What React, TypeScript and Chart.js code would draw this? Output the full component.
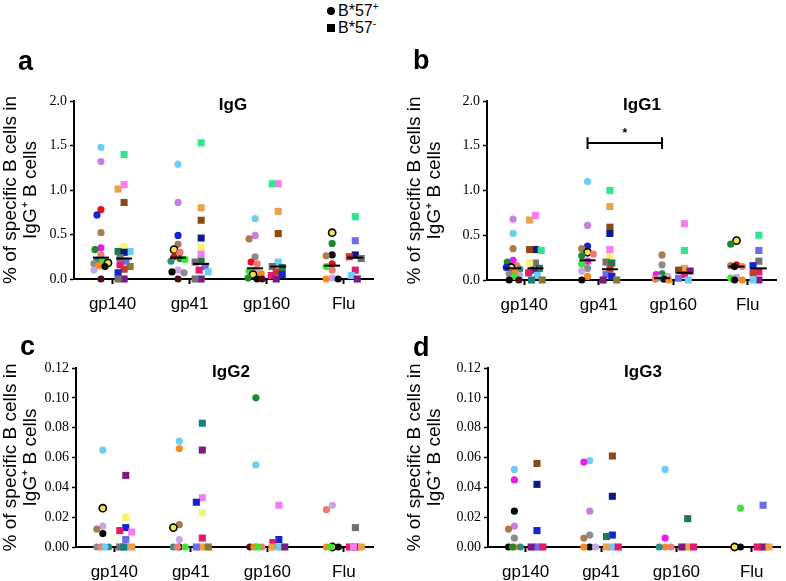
import React, { useEffect, useRef } from 'react';
import { Chart, registerables } from 'chart.js';

Chart.register(...registerables);

// ---------- data ----------
const CATEGORIES = ['gp140', 'gp41', 'gp160', 'Flu'];
const PANEL_TITLES = ['IgG', 'IgG1', 'IgG2', 'IgG3'];
const PANEL_LETTERS = ['a', 'b', 'c', 'd'];
const Y_TITLE = ['% of specific B cells in', 'IgG\u207A B cells'];
const Y_TICKS_TOTAL = [0, 0.5, 1.0, 1.5, 2.0];
const Y_TICKS_SUB = [0, 0.02, 0.04, 0.06, 0.08, 0.1, 0.12];
const LEGEND_LABELS = ['B*57', 'B*57'];

type Pt = [number, number, string]; // [category index, value, colour key]

// IgG
const IGG_POS: Pt[] = [
  [0, 1.48, 'sky'], [0, 1.32, 'violet'], [0, 0.78, 'red'], [0, 0.72, 'blue'], [0, 0.52, 'brown'],
  [0, 0.35, 'magenta'], [0, 0.33, 'green'], [0, 0.27, 'salmon'], [0, 0.21, 'teal'], [0, 0.2, 'lime'],
  [0, 0.18, 'by'], [0, 0.17, 'gray'], [0, 0.15, 'orange'], [0, 0.14, 'black'], [0, 0.1, 'lavender'], [0, 0.0, 'darkred'],
  [1, 1.29, 'sky'], [1, 0.86, 'violet'], [1, 0.49, 'blue'], [1, 0.39, 'brown'], [1, 0.33, 'by'],
  [1, 0.3, 'salmon'], [1, 0.25, 'red'], [1, 0.23, 'green'], [1, 0.22, 'lime'], [1, 0.2, 'teal'],
  [1, 0.1, 'lavender'], [1, 0.08, 'black'], [1, 0.07, 'gray'], [1, 0.0, 'darkred'],
  [2, 0.68, 'sky'], [2, 0.49, 'violet'], [2, 0.45, 'brown'], [2, 0.25, 'gray'], [2, 0.19, 'red'],
  [2, 0.17, 'salmon'], [2, 0.1, 'lavender'], [2, 0.09, 'lime'], [2, 0.06, 'orange'], [2, 0.05, 'by'],
  [2, 0.01, 'green'], [2, 0.0, 'black'], [2, 0.0, 'darkred'],
  [3, 0.52, 'by'], [3, 0.4, 'green'], [3, 0.27, 'black'], [3, 0.26, 'brown'], [3, 0.17, 'red'],
  [3, 0.14, 'lime'], [3, 0.1, 'salmon'], [3, 0.01, 'lavender'], [3, 0.0, 'orange'], [3, 0.0, 'black'],
];
const IGG_NEG: Pt[] = [
  [0, 1.4, 'mint'], [0, 1.06, 'pink'], [0, 1.01, 'lorange'], [0, 0.86, 'dbrown'], [0, 0.36, 'yellow'],
  [0, 0.31, 'dgreen'], [0, 0.31, 'sky'], [0, 0.3, 'navy'], [0, 0.24, 'dgray'], [0, 0.2, 'peri'],
  [0, 0.16, 'crimson'], [0, 0.14, 'olive'], [0, 0.11, 'rbrown'], [0, 0.07, 'blue'], [0, 0.0, 'purple'], [0, 0.0, 'dgray'],
  [1, 1.53, 'mint'], [1, 0.8, 'lorange'], [1, 0.66, 'dbrown'], [1, 0.46, 'navy'], [1, 0.36, 'yellow'],
  [1, 0.28, 'pink'], [1, 0.2, 'dgreen'], [1, 0.19, 'dgray'], [1, 0.14, 'peri'], [1, 0.1, 'crimson'],
  [1, 0.08, 'sky'], [1, 0.0, 'purple'], [1, 0.0, 'dgray'],
  [2, 1.07, 'pink'], [2, 1.07, 'mint'], [2, 0.76, 'lorange'], [2, 0.51, 'dbrown'], [2, 0.19, 'sky'],
  [2, 0.14, 'dgray'], [2, 0.13, 'dgreen'], [2, 0.08, 'rbrown'], [2, 0.05, 'blue'], [2, 0.04, 'crimson'], [2, 0.0, 'purple'],
  [3, 0.7, 'mint'], [3, 0.43, 'peri'], [3, 0.27, 'navy'], [3, 0.25, 'rbrown'], [3, 0.23, 'dgray'],
  [3, 0.1, 'crimson'], [3, 0.04, 'sky'], [3, 0.0, 'purple'],
];
const IGG_MED_POS = [0.24, 0.24, 0.12, 0.15];
const IGG_MED_NEG = [0.23, 0.17, 0.14, 0.24];

// IgG1
const IGG1_POS: Pt[] = [
  [0, 0.68, 'violet'], [0, 0.52, 'sky'], [0, 0.35, 'brown'], [0, 0.22, 'magenta'], [0, 0.2, 'green'],
  [0, 0.16, 'salmon'], [0, 0.14, 'by'], [0, 0.14, 'blue'], [0, 0.12, 'teal'], [0, 0.1, 'orange'],
  [0, 0.07, 'gray'], [0, 0.05, 'lavender'], [0, 0.04, 'lime'], [0, 0.0, 'black'], [0, 0.0, 'darkred'],
  [1, 1.1, 'sky'], [1, 0.61, 'violet'], [1, 0.38, 'blue'], [1, 0.35, 'brown'], [1, 0.31, 'by'],
  [1, 0.29, 'salmon'], [1, 0.27, 'green'], [1, 0.21, 'magenta'], [1, 0.18, 'lime'], [1, 0.13, 'gray'],
  [1, 0.1, 'lavender'], [1, 0.04, 'orange'], [1, 0.0, 'black'],
  [2, 0.28, 'brown'], [2, 0.17, 'gray'], [2, 0.07, 'green'], [2, 0.06, 'magenta'], [2, 0.04, 'lavender'],
  [2, 0.02, 'sky'], [2, 0.01, 'salmon'], [2, 0.01, 'black'], [2, 0.0, 'orange'],
  [3, 0.44, 'by'], [3, 0.4, 'green'], [3, 0.17, 'red'], [3, 0.16, 'brown'], [3, 0.15, 'salmon'],
  [3, 0.15, 'black'], [3, 0.03, 'lavender'], [3, 0.02, 'lime'], [3, 0.0, 'orange'], [3, 0.0, 'black'],
];
const IGG1_NEG: Pt[] = [
  [0, 0.72, 'pink'], [0, 0.67, 'lorange'], [0, 0.34, 'navy'], [0, 0.34, 'dbrown'], [0, 0.33, 'mint'],
  [0, 0.19, 'dgray'], [0, 0.19, 'yellow'], [0, 0.13, 'dgreen'], [0, 0.11, 'purple'], [0, 0.08, 'crimson'],
  [0, 0.05, 'sky'], [0, 0.0, 'dteal'], [0, 0.0, 'olive'],
  [1, 1.0, 'mint'], [1, 0.82, 'lorange'], [1, 0.59, 'dbrown'], [1, 0.52, 'navy'], [1, 0.34, 'pink'],
  [1, 0.26, 'yellow'], [1, 0.2, 'dgray'], [1, 0.19, 'dgreen'], [1, 0.12, 'rbrown'], [1, 0.06, 'peri'],
  [1, 0.04, 'blue'], [1, 0.0, 'purple'], [1, 0.0, 'olive'],
  [2, 0.63, 'pink'], [2, 0.33, 'mint'], [2, 0.13, 'lorange'], [2, 0.11, 'dbrown'], [2, 0.1, 'purple'],
  [2, 0.06, 'crimson'], [2, 0.02, 'peri'], [2, 0.0, 'sky'],
  [3, 0.5, 'mint'], [3, 0.33, 'peri'], [3, 0.21, 'dgray'], [3, 0.16, 'blue'], [3, 0.09, 'crimson'],
  [3, 0.08, 'rbrown'], [3, 0.0, 'purple'], [3, 0.0, 'sky'],
];
const IGG1_MED_POS = [0.13, 0.22, 0.02, 0.15];
const IGG1_MED_NEG = [0.13, 0.12, 0.08, 0.13];
const IGG1_SIG = { from: 1, to: 2, y: 1.53, cap: 0.065, starY: 1.63, label: '*' };

// IgG2
const IGG2_POS: Pt[] = [
  [0, 0.065, 'sky'], [0, 0.026, 'by'], [0, 0.014, 'lavender'], [0, 0.012, 'brown'], [0, 0.009, 'black'],
  [0, 0, 'orange'], [0, 0, 'gray'], [0, 0, 'teal'], [0, 0, 'salmon'], [0, 0, 'sky'],
  [1, 0.071, 'sky'], [1, 0.066, 'orange'], [1, 0.015, 'brown'], [1, 0.013, 'by'], [1, 0.005, 'lavender'],
  [1, 0, 'darkred'], [1, 0, 'teal'], [1, 0, 'lime'], [1, 0, 'salmon'],
  [2, 0.1, 'green'], [2, 0.055, 'sky'], [2, 0, 'teal'], [2, 0, 'darkred'], [2, 0, 'salmon'],
  [2, 0, 'orange'], [2, 0, 'lime'],
  [3, 0.028, 'lavender'], [3, 0.025, 'salmon'], [3, 0, 'by'], [3, 0, 'orange'], [3, 0, 'black'], [3, 0, 'lime'],
];
const IGG2_NEG: Pt[] = [
  [0, 0.048, 'purple'], [0, 0.02, 'yellow'], [0, 0.013, 'blue'], [0, 0.011, 'crimson'], [0, 0.01, 'pink'],
  [0, 0.005, 'peri'], [0, 0, 'sky'], [0, 0, 'dgray'], [0, 0, 'lorange'], [0, 0, 'dteal'],
  [1, 0.083, 'dteal'], [1, 0.065, 'purple'], [1, 0.033, 'pink'], [1, 0.03, 'blue'], [1, 0.023, 'yellow'],
  [1, 0.006, 'crimson'], [1, 0, 'lorange'], [1, 0, 'peri'], [1, 0, 'olive'],
  [2, 0.028, 'pink'], [2, 0.005, 'blue'], [2, 0.003, 'crimson'], [2, 0, 'sky'], [2, 0, 'purple'], [2, 0, 'lorange'],
  [3, 0.013, 'dgray'], [3, 0, 'purple'], [3, 0, 'crimson'], [3, 0, 'lorange'], [3, 0, 'pink'],
];
const IGG2_MED_POS: number[] = [];
const IGG2_MED_NEG: number[] = [];

// IgG3
const IGG3_POS: Pt[] = [
  [0, 0.052, 'sky'], [0, 0.045, 'magenta'], [0, 0.024, 'black'], [0, 0.014, 'violet'], [0, 0.012, 'brown'],
  [0, 0.006, 'gray'], [0, 0, 'orange'], [0, 0, 'black'], [0, 0, 'teal'], [0, 0, 'green'],
  [1, 0.058, 'sky'], [1, 0.057, 'magenta'], [1, 0.024, 'violet'], [1, 0.008, 'gray'], [1, 0.006, 'brown'],
  [1, 0, 'black'], [1, 0, 'orange'], [1, 0, 'lavender'],
  [2, 0.052, 'sky'], [2, 0.006, 'magenta'], [2, 0, 'orange'], [2, 0, 'teal'], [2, 0, 'salmon'],
  [3, 0.026, 'lime'], [3, 0, 'black'], [3, 0, 'by'],
];
const IGG3_NEG: Pt[] = [
  [0, 0.056, 'dbrown'], [0, 0.042, 'navy'], [0, 0.011, 'blue'], [0, 0, 'peri'], [0, 0, 'purple'], [0, 0, 'crimson'],
  [1, 0.061, 'dbrown'], [1, 0.034, 'navy'], [1, 0.008, 'blue'], [1, 0.007, 'dgreen'], [1, 0, 'sky'],
  [1, 0, 'lorange'], [1, 0, 'crimson'],
  [2, 0.019, 'dgreen'], [2, 0, 'lorange'], [2, 0, 'purple'], [2, 0, 'crimson'],
  [3, 0.028, 'peri'], [3, 0, 'purple'], [3, 0, 'crimson'], [3, 0, 'lorange'],
];
const IGG3_MED_POS: number[] = [];
const IGG3_MED_NEG: number[] = [];

// ---------- style ----------
const COLORS: Record<string, string> = {
  sky: '#6fcdf3', violet: '#c77fe0', red: '#e3141c', blue: '#1522d2', brown: '#a97b50',
  magenta: '#e91de3', green: '#1c8a2c', salmon: '#ee7b72', orange: '#f68a1f', lavender: '#c6a8e2',
  black: '#0a0a0a', gray: '#8c8c8c', lime: '#3de634', teal: '#2b8f86', darkred: '#4d0d18',
  mint: '#2fe68b', pink: '#f47df1', lorange: '#eaa24b', dbrown: '#8a4915', yellow: '#f7f46c',
  dgreen: '#1b7a48', navy: '#0c1a85', peri: '#6c6ce9', dgray: '#717171', crimson: '#e5196d',
  purple: '#7d1a7f', rbrown: '#c23a2c', olive: '#857a2e', dteal: '#1b8080', by: '#f2e24c',
};
const SANS = '"Liberation Sans", Arial, Helvetica, sans-serif';
const SERIF = '"Liberation Serif", "Times New Roman", serif';
const GROUP_OFFSET = 0.15;
const X_MIN = -0.5;
const X_MAX = 3.38;

type Geo = { left: number; top: number; width: number; height: number; padTop: number; padRight: number; yAxisW: number; xAxisH: number; titlePad: number };
const GEOS: Geo[] = [
  { left: 0, top: 40, width: 393, height: 285, padTop: 61, padRight: 20, yAxisW: 74, xAxisH: 46, titlePad: 1 },
  { left: 393, top: 40, width: 393, height: 285, padTop: 61, padRight: 4, yAxisW: 94, xAxisH: 45, titlePad: 12 },
  { left: 0, top: 325, width: 393, height: 256, padTop: 43, padRight: 20, yAxisW: 76, xAxisH: 34, titlePad: 1 },
  { left: 393, top: 325, width: 393, height: 256, padTop: 43, padRight: 3, yAxisW: 95, xAxisH: 34, titlePad: 12 },
];

// beeswarm-like spread of overlapping dots (layout only)
function swarmOffsets(vals: number[], yMax: number): number[] {
  const ySc = 178 / yMax;
  const xSc = 77;
  const order = vals.map((_, i) => i).sort((a, b) => vals[b] - vals[a]);
  const placed: { x: number; y: number }[] = [];
  const out = new Array(vals.length).fill(0);
  const cands = [0, -2, 2, -4, 4, -6, 6, -7, 7];
  const D = 6;
  for (const i of order) {
    const y = vals[i] * ySc;
    let best = 0;
    let bestD = -1;
    for (const c of cands) {
      let md = Infinity;
      for (const p of placed) md = Math.min(md, Math.hypot(p.x - c, p.y - y));
      if (md >= D) { best = c; break; }
      if (md > bestD) { bestD = md; best = c; }
    }
    placed.push({ x: best, y });
    out[i] = best / xSc;
  }
  return out;
}

function buildPoints(pts: Pt[], shift: number, yMax: number) {
  const xs = new Array(pts.length).fill(0);
  CATEGORIES.forEach((_, c) => {
    const idx = pts.map((p, i) => (p[0] === c ? i : -1)).filter((i) => i >= 0);
    const offs = swarmOffsets(idx.map((i) => pts[i][1]), yMax);
    idx.forEach((i, k) => { xs[i] = c + shift + offs[k]; });
  });
  return {
    data: pts.map((p, i) => ({ x: xs[i], y: p[1] })),
    bg: pts.map((p) => COLORS[p[2]]),
    border: pts.map((p) => (p[2] === 'by' ? '#000' : COLORS[p[2]])),
    bw: pts.map((p) => (p[2] === 'by' ? 1.6 : 0)),
  };
}

type PanelProps = {
  idx: number; pos: Pt[]; neg: Pt[]; medPos: number[]; medNeg: number[];
  yMax: number; yTicks: number[]; decimals: number; sig?: typeof IGG1_SIG;
};

function Panel({ idx, pos, neg, medPos, medNeg, yMax, yTicks, decimals, sig }: PanelProps) {
  const ref = useRef<HTMLCanvasElement | null>(null);
  const g = GEOS[idx];
  useEffect(() => {
    if (!ref.current) return;
    const P = buildPoints(pos, -GROUP_OFFSET, yMax);
    const N = buildPoints(neg, GROUP_OFFSET, yMax);
    const meds = [
      ...medPos.map((v, i) => ({ x: i - GROUP_OFFSET, y: v })),
      ...medNeg.map((v, i) => ({ x: i + GROUP_OFFSET, y: v })),
    ];
    const sigPlugin = {
      id: 'sig',
      afterDatasetsDraw(chart: any) {
        if (!sig) return;
        const { ctx, scales } = chart;
        const x1 = scales.x.getPixelForValue(sig.from - GROUP_OFFSET);
        const x2 = scales.x.getPixelForValue(sig.to - GROUP_OFFSET);
        const yl = scales.y.getPixelForValue(sig.y);
        const yt = scales.y.getPixelForValue(sig.y + sig.cap);
        const yb = scales.y.getPixelForValue(sig.y - sig.cap);
        ctx.save();
        ctx.strokeStyle = '#000';
        ctx.lineWidth = 2;
        ctx.beginPath();
        ctx.moveTo(x1, yt); ctx.lineTo(x1, yb);
        ctx.moveTo(x1, yl); ctx.lineTo(x2, yl);
        ctx.moveTo(x2, yt); ctx.lineTo(x2, yb);
        ctx.stroke();
        ctx.fillStyle = '#000';
        ctx.font = `bold 12px ${SANS}`;
        ctx.textAlign = 'center';
        ctx.textBaseline = 'middle';
        ctx.fillText(sig.label, (x1 + x2) / 2, scales.y.getPixelForValue(sig.starY));
        ctx.restore();
      },
    };
    const chart = new Chart(ref.current, {
      type: 'scatter',
      data: {
        datasets: [
          { data: meds, pointStyle: 'line', pointRadius: 8, pointBorderWidth: 2, borderColor: '#000', backgroundColor: '#000', clip: false } as any,
          { data: P.data, pointStyle: 'circle', pointRadius: 3.6, pointBackgroundColor: P.bg, pointBorderColor: P.border, pointBorderWidth: P.bw, clip: false } as any,
          { data: N.data, pointStyle: 'rect', pointRadius: 5, pointBackgroundColor: N.bg, pointBorderColor: N.border, pointBorderWidth: N.bw, clip: false } as any,
        ],
      },
      options: {
        animation: false,
        responsive: false,
        events: [],
        layout: { padding: { top: g.padTop, right: g.padRight, left: 0, bottom: 0 } },
        plugins: { legend: { display: false }, tooltip: { enabled: false }, title: { display: false } },
        scales: {
          x: {
            type: 'linear', min: X_MIN, max: X_MAX,
            afterBuildTicks: (s: any) => { s.ticks = CATEGORIES.map((_, i) => ({ value: i })); },
            afterFit: (s: any) => { s.height = g.xAxisH; },
            ticks: {
              callback: (v: any) => CATEGORIES[Math.round(Number(v))] ?? '',
              font: { family: SANS, size: 17 }, color: '#000', padding: 10, maxRotation: 0, autoSkip: false,
            },
            grid: { display: true, drawOnChartArea: false, drawTicks: true, tickLength: 5, tickWidth: 2, tickColor: '#000' },
            border: { display: true, color: '#000', width: 2 },
          },
          y: {
            type: 'linear', min: 0, max: yMax,
            afterBuildTicks: (s: any) => { s.ticks = yTicks.map((v) => ({ value: v })); },
            afterFit: (s: any) => { s.width = g.yAxisW; },
            ticks: {
              callback: (v: any) => Number(v).toFixed(decimals),
              font: { family: SERIF, size: 14 }, color: '#000', padding: 3,
            },
            grid: { display: true, drawOnChartArea: false, drawTicks: true, tickLength: 4, tickWidth: 1.5, tickColor: '#000' },
            border: { display: true, color: '#000', width: 2 },
            title: {
              display: true, text: Y_TITLE, color: '#000',
              font: { family: SANS, size: 19, lineHeight: 1.05 },
              padding: { top: g.titlePad, bottom: 0 },
            },
          },
        },
      } as any,
      plugins: [sigPlugin],
    });
    return () => chart.destroy();
  }, []);
  return (
    <canvas
      ref={ref}
      width={g.width}
      height={g.height}
      style={{ position: 'absolute', left: g.left, top: g.top, width: g.width, height: g.height }}
    />
  );
}

const TITLE_POS = [
  { x: 233, y: 104 }, { x: 642, y: 104 }, { x: 231, y: 371 }, { x: 643, y: 371 },
];
const LETTER_POS = [
  { x: 18, y: 48 }, { x: 413, y: 47 }, { x: 20, y: 333 }, { x: 413, y: 334 },
];

export default function App() {
  return (
    <div style={{ position: 'absolute', left: 0, top: 0, width: 786, height: 581, background: '#fff', overflow: 'hidden', fontFamily: SANS }}>
      <Panel idx={0} pos={IGG_POS} neg={IGG_NEG} medPos={IGG_MED_POS} medNeg={IGG_MED_NEG} yMax={2} yTicks={Y_TICKS_TOTAL} decimals={1} />
      <Panel idx={1} pos={IGG1_POS} neg={IGG1_NEG} medPos={IGG1_MED_POS} medNeg={IGG1_MED_NEG} yMax={2} yTicks={Y_TICKS_TOTAL} decimals={1} sig={IGG1_SIG} />
      <Panel idx={2} pos={IGG2_POS} neg={IGG2_NEG} medPos={IGG2_MED_POS} medNeg={IGG2_MED_NEG} yMax={0.12} yTicks={Y_TICKS_SUB} decimals={2} />
      <Panel idx={3} pos={IGG3_POS} neg={IGG3_NEG} medPos={IGG3_MED_POS} medNeg={IGG3_MED_NEG} yMax={0.12} yTicks={Y_TICKS_SUB} decimals={2} />

      {PANEL_TITLES.map((t, i) => (
        <div key={t} style={{ position: 'absolute', left: TITLE_POS[i].x, top: TITLE_POS[i].y, transform: 'translate(-50%, -50%)', fontWeight: 'bold', fontSize: 17, lineHeight: 1, whiteSpace: 'nowrap' }}>{t}</div>
      ))}
      {PANEL_LETTERS.map((l, i) => (
        <div key={l} style={{ position: 'absolute', left: LETTER_POS[i].x, top: LETTER_POS[i].y, fontWeight: 'bold', fontSize: 27, lineHeight: 1 }}>{l}</div>
      ))}

      <div style={{ position: 'absolute', left: 327, top: 2, fontSize: 16, lineHeight: '17px', whiteSpace: 'nowrap' }}>
        <div style={{ display: 'flex', alignItems: 'center' }}>
          <span style={{ display: 'inline-block', width: 8, height: 8, borderRadius: 4, background: '#000', marginRight: 3 }} />
          <span>{LEGEND_LABELS[0]}<sup style={{ fontSize: 10, verticalAlign: 'top', lineHeight: 1 }}>+</sup></span>
        </div>
        <div style={{ display: 'flex', alignItems: 'center' }}>
          <span style={{ display: 'inline-block', width: 8, height: 8, background: '#000', marginRight: 3 }} />
          <span>{LEGEND_LABELS[1]}<sup style={{ fontSize: 10, verticalAlign: 'top', lineHeight: 1 }}>-</sup></span>
        </div>
      </div>
    </div>
  );
}
